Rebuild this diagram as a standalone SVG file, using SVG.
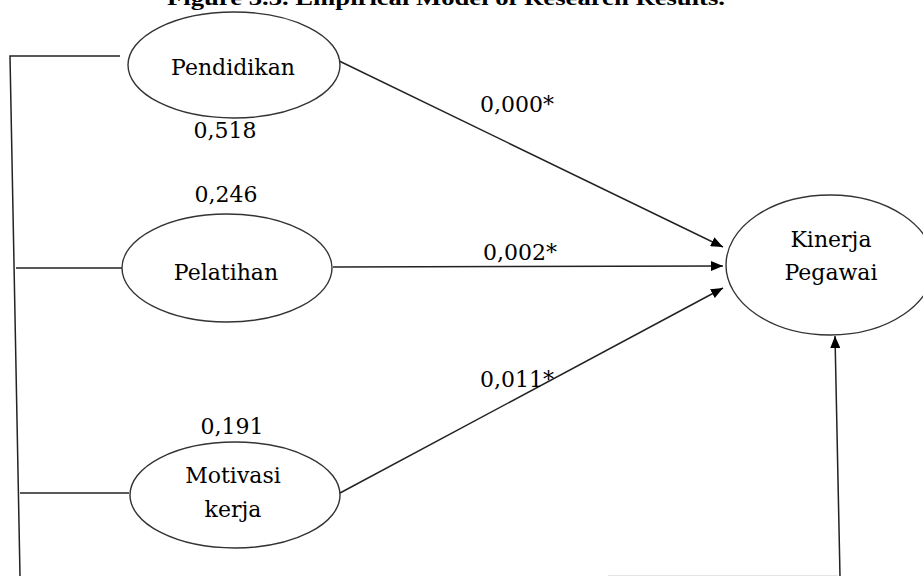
<svg xmlns="http://www.w3.org/2000/svg" width="923" height="576" viewBox="0 0 923 576">
<style>
.n{fill:#fff;stroke:#333;stroke-width:1.4}
.t{font-family:"DejaVu Serif","Liberation Serif",serif;font-size:22px;fill:#000;text-anchor:middle}
.l{font-family:"DejaVu Serif","Liberation Serif",serif;font-size:22px;fill:#000}
.c{stroke:#222;stroke-width:1.5;fill:none}
.a{stroke:#222;stroke-width:1.5;fill:none;marker-end:url(#ah)}
</style>
<defs>
<marker id="ah" markerWidth="12" markerHeight="10" refX="12" refY="5" orient="auto" markerUnits="userSpaceOnUse">
<path d="M0,0 L12,5 L0,10 Z" fill="#000"/>
</marker>
</defs>
<rect width="923" height="576" fill="#fff"/>
<text x="167" y="5" font-family="Liberation Serif, serif" font-weight="bold" font-size="22" textLength="558" lengthAdjust="spacingAndGlyphs">Figure 3.3. Empirical Model of Research Results.</text>
<g id="connectors">
<polyline class="c" points="120,56 10,56 20,576"/>
<line class="c" x1="16" y1="268" x2="122" y2="268"/>
<line class="c" x1="20" y1="493" x2="129" y2="493"/>
<line class="a" x1="333" y1="58" x2="723" y2="247"/>
<line class="a" x1="333" y1="267" x2="723" y2="266"/>
<line class="a" x1="340" y1="493" x2="723" y2="288"/>
<line class="a" x1="840" y1="576" x2="835" y2="336"/>
<line x1="608" y1="575.5" x2="838" y2="575.5" stroke="#e4e4e4" stroke-width="1"/>
<text class="l" x="480" y="112">0,000*</text>
<text class="l" x="483" y="260">0,002*</text>
<text class="l" x="480" y="387">0,011*</text>
</g>
<g id="pendidikan">
<ellipse class="n" cx="234" cy="65" rx="106" ry="53"/>
<text class="t" x="233" y="75">Pendidikan</text>
<text class="t" x="225" y="138">0,518</text>
</g>
<g id="pelatihan">
<ellipse class="n" cx="227" cy="268" rx="105" ry="54"/>
<text class="t" x="226" y="280">Pelatihan</text>
<text class="t" x="226" y="202">0,246</text>
</g>
<g id="motivasi">
<ellipse class="n" cx="235" cy="495" rx="105" ry="53"/>
<text class="t" x="233" y="483">Motivasi</text>
<text class="t" x="233" y="517">kerja</text>
<text class="t" x="232" y="434">0,191</text>
</g>
<g id="kinerja">
<ellipse class="n" cx="830" cy="265" rx="104" ry="70"/>
<text class="t" x="831" y="247">Kinerja</text>
<text class="t" x="831" y="280">Pegawai</text>
</g>
</svg>
